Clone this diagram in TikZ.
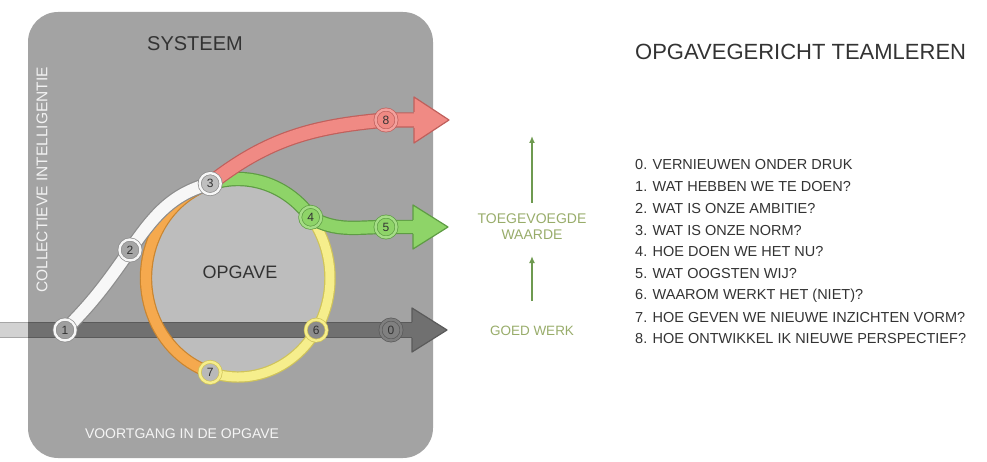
\documentclass[tikz,border=0pt]{standalone}
\usepackage{fontspec}
\setmainfont{Liberation Sans}
\usetikzlibrary{arrows.meta}

\definecolor{boxgray}{HTML}{A3A3A3}
\definecolor{innergray}{HTML}{BDBDBD}
\definecolor{bandfill}{HTML}{707070}
\definecolor{bandline}{HTML}{5A5A5A}
\definecolor{redfill}{HTML}{F08A84}
\definecolor{redline}{HTML}{C0605C}
\definecolor{greenfill}{HTML}{8ED468}
\definecolor{greenline}{HTML}{5E9C44}
\definecolor{orangefill}{HTML}{F5A94E}
\definecolor{orangeline}{HTML}{C98530}
\definecolor{yellowfill}{HTML}{F6EE8C}
\definecolor{yellowline}{HTML}{CFC35A}
\definecolor{whitefill}{HTML}{F7F7F7}
\definecolor{whiteline}{HTML}{8C8C8C}
\definecolor{valgreen}{HTML}{6E9A50}
\definecolor{valtext}{HTML}{98AC6A}
\definecolor{textdark}{HTML}{333333}

\pgfdeclarelayer{back}
\pgfdeclarelayer{mid}
\pgfsetlayers{back,mid,main}

\tikzset{
  stap/.style={circle, minimum size=21pt, inner sep=0pt, text=textdark,
    font=\fontsize{12}{12}\selectfont, line width=0.7pt, double distance=2.4pt},
  band/.style={line width=1.2pt, double distance=#1},
  label/.style={inner sep=0pt, font=\fontsize{#1}{#1}\selectfont},
  vraag/.style={anchor=west, inner sep=0pt, text=textdark, font=\fontsize{14.5}{14.5}\selectfont},
  groei/.style={valgreen, line width=1.6pt, -{Latex[length=7pt,width=6pt]}},
  kop/.style={line width=1.2pt, line join=round}
}

\begin{document}
\begin{tikzpicture}[x=1pt, y=-1pt]
	\useasboundingbox (0,0) rectangle (987,462);
	\coordinate (ctr) at (238,278);

	\begin{pgfonlayer}{back}
	\fill[boxgray, rounded corners=30pt] (28,12) rectangle (433,458);
	\fill[innergray] (ctr) ellipse [x radius=92pt, y radius=99pt];
	\end{pgfonlayer}

	% stappen
	\node[stap, draw=whiteline, double=whitefill, fill=gray!75] (n1) at (65,330) {1};
	\node[stap, draw=whiteline, double=whitefill, fill=gray!70] (n2) at (130,250) {2};
	\node[stap, draw=whiteline, double=whitefill, fill=gray!50] (n3) at ([shift={(107.6:92pt and 99pt)}]ctr) {3};
	\node[stap, draw=greenline, double=greenfill!80!white, fill=greenfill] (n4) at ([shift={(37.8:92pt and 99pt)}]ctr) {4};
	\node[stap, draw=greenline, double=greenfill!80!white, fill=greenfill] (n5) at (386,227) {5};
	\node[stap, draw=yellowline, double=yellowfill, fill=gray!90] (n6) at ([shift={(-31.8:92pt and 99pt)}]ctr) {6};
	\node[stap, draw=yellowline, double=yellowfill, fill=gray!55] (n7) at ([shift={(252.4:92pt and 99pt)}]ctr) {7};
	\node[stap, draw=redline, double=redfill!80!white, fill=redfill] (n8) at (386,120) {8};
	\node[stap, draw=bandline, double=bandfill!90!white, fill=gray] (n0) at (391,330) {0};

	\coordinate (bandin) at (28,330);
	\coordinate (bandL) at (0,330);
	\coordinate (tip0) at (447,330);
	\coordinate (tip5) at (448,227);
	\coordinate (tip8) at (449,120);

	\begin{pgfonlayer}{mid}
	% voortgang
	\draw[band=14pt, draw=gray!70, double=gray!35] (bandL) -- (bandin);
	\draw[band=14pt, draw=bandline, double=bandfill] (bandin) -- (n0.center) -- ([xshift=-30pt]tip0);
	\fill[bandfill] (tip0) -- ++(-35,-22) -- ++(0,44) -- cycle;
	\draw[kop, bandline] ([shift={(-35,-8)}]tip0) -- ++(0,-14) -- (tip0) -- ++(-35,22) -- ++(0,-14);
	% cirkel
	\draw[band=10pt, draw=orangeline, double=orangefill] (n3.center) arc[start angle=107.6, end angle=252.4, x radius=92pt, y radius=99pt];
	\draw[band=9pt, draw=yellowline, double=yellowfill] (n7.center) arc[start angle=252.4, end angle=397.8, x radius=92pt, y radius=99pt];
	\draw[band=12pt, draw=whiteline, double=whitefill] (n1.center) to[out=45, in=235] (n2.center) to[out=55, in=195] (n3.center);
	% groen
	\draw[band=12pt, draw=greenline, double=greenfill] (n3.center) arc[start angle=107.6, end angle=37.8, x radius=92pt, y radius=99pt];
	\draw[band=12pt, draw=greenline, double=greenfill] (n4.center) to[out=-30, in=180] (n5.center) -- ([xshift=-30pt]tip5);
	\fill[greenfill] (tip5) -- ++(-35,-22) -- ++(0,44) -- cycle;
	\draw[kop, greenline] ([shift={(-35,-7)}]tip5) -- ++(0,-15) -- (tip5) -- ++(-35,22) -- ++(0,-15);
	% rood
	\draw[band=13pt, draw=redline, double=redfill] (n3.center) to[out=38, in=185] (n8.center) -- ([xshift=-30pt]tip8);
	\fill[redfill] (tip8) -- ++(-35,-23) -- ++(0,46) -- cycle;
	\draw[kop, redline] ([shift={(-35,-8)}]tip8) -- ++(0,-15) -- (tip8) -- ++(-35,23) -- ++(0,-15);
	\end{pgfonlayer}

	% teksten in het vlak
	\node[label=20, text=textdark] (systeem) at (195,44) {SYSTEEM};
	\node[label=18, text=textdark] (opgave) at (240,272) {OPGAVE};
	\node[label=14, text=white!92!gray] (voortgang) at (182,434) {VOORTGANG IN DE OPGAVE};
	\node[label=15.5, text=white!90!gray, rotate=90] (collectief) at (42,180) {COLLECTIEVE INTELLIGENTIE};

	% waarde
	\node[label=14, text=valtext, align=center] (toeg) at (532,227) {TOEGEVOEGDE\\[2pt]WAARDE};
	\node[label=13.5, text=valtext] (goed) at (532,331) {GOED WERK};
	\coordinate (valtop) at (532,136);
	\draw[groei] ([yshift=25pt]goed.north) -- ([yshift=-16pt]toeg.south);
	\draw[groei] ([yshift=11pt]toeg.north) -- (valtop);

	% legenda
	\node[anchor=west, inner sep=0pt, text=textdark, font=\fontsize{22}{22}\selectfont] (titel) at (635,52) {OPGAVEGERICHT TEAMLEREN};
	\foreach \i/\t in {0/{0. VERNIEUWEN ONDER DRUK},
	                   1/{1. WAT HEBBEN WE TE DOEN?},
	                   2/{2. WAT IS ONZE AMBITIE?},
	                   3/{3. WAT IS ONZE NORM?},
	                   4/{4. HOE DOEN WE HET NU?},
	                   5/{5. WAT OOGSTEN WIJ?},
	                   6/{6. WAAROM WERKT HET (NIET)?},
	                   7/{7. HOE GEVEN WE NIEUWE INZICHTEN VORM?},
	                   8/{8. HOE ONTWIKKEL IK NIEUWE PERSPECTIEF?}}
		\node[vraag] (q\i) at (635,165+21.75*\i) {\t};
\end{tikzpicture}
\end{document}
